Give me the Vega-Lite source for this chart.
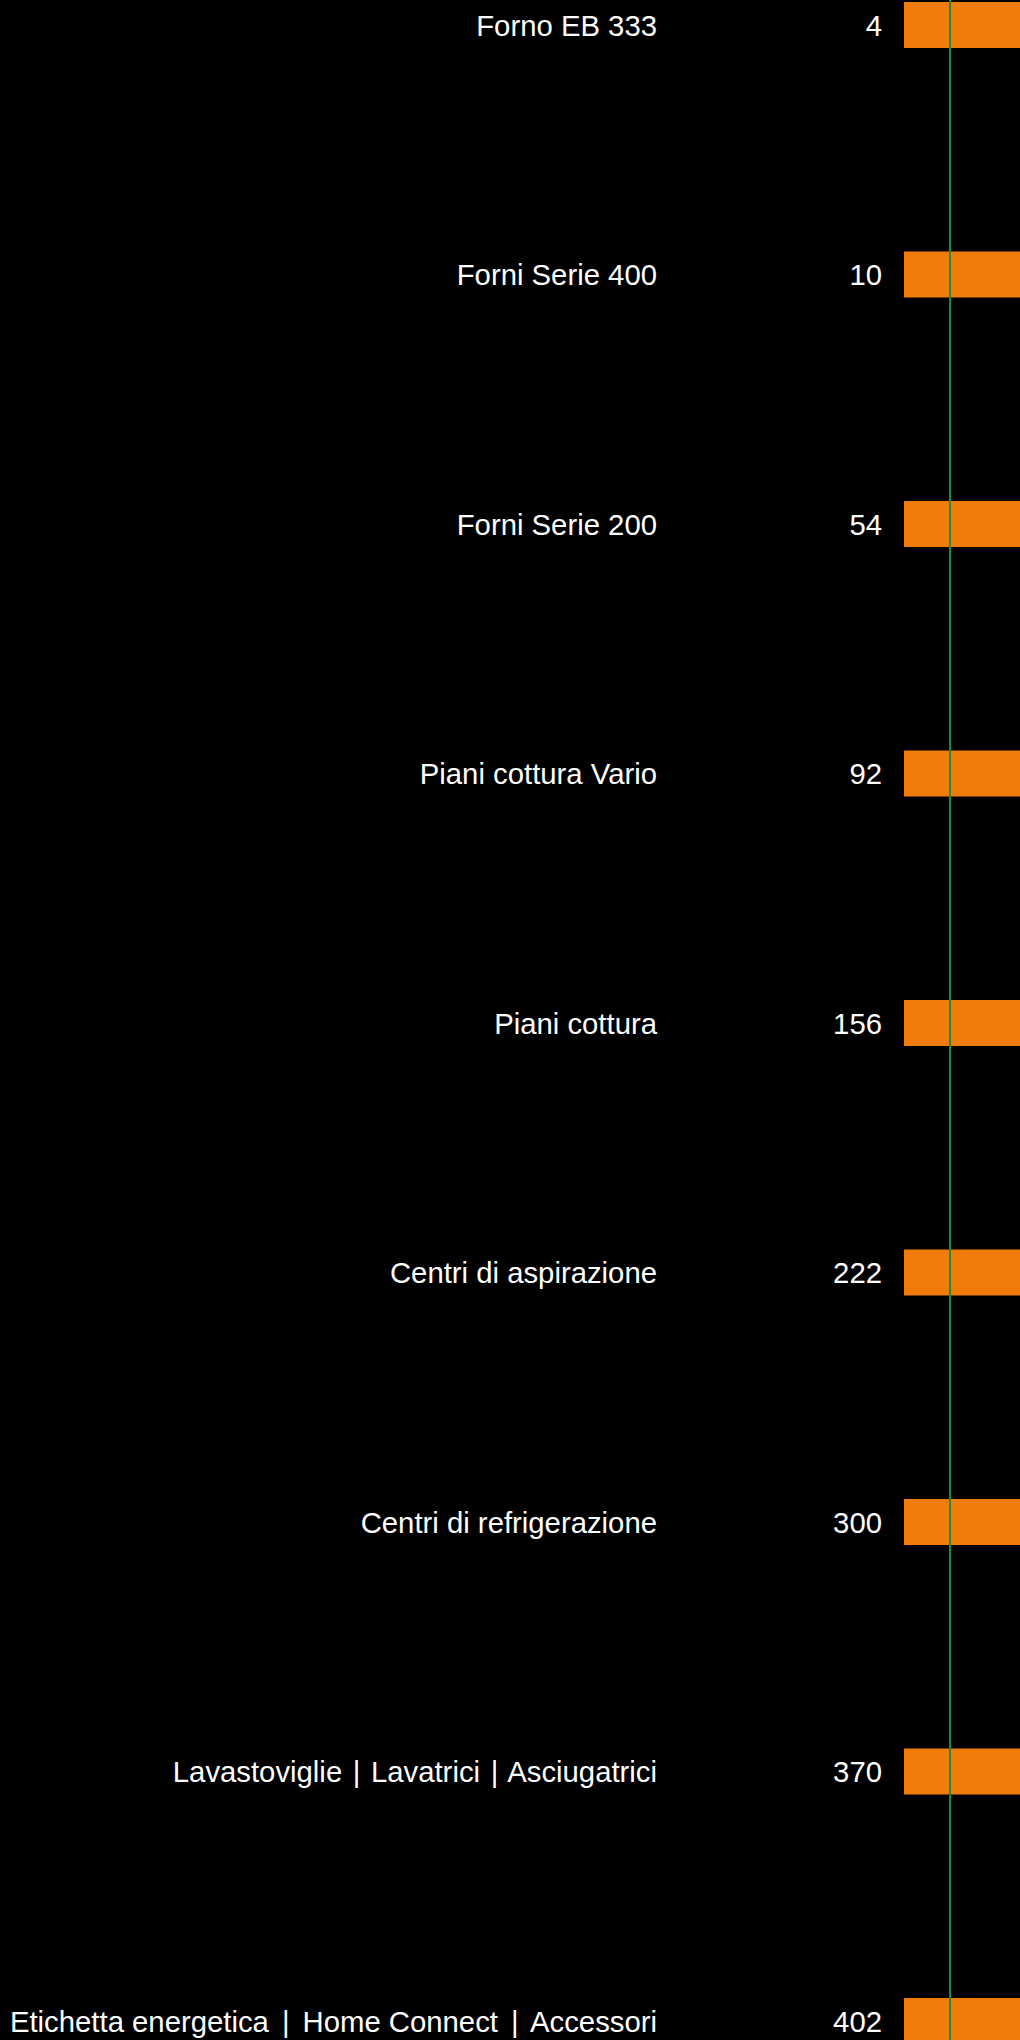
{
  "$schema": "https://vega.github.io/schema/vega-lite/v6.json",
  "autosize": {"type": "none"},
  "width": 1020,
  "height": 2040,
  "padding": 0,
  "background": "#000000",
  "config": {"view": {"stroke": null}},
  "data": {
    "values": [
      {"row": 0, "section": "Forno EB 333", "page": "4"},
      {"row": 1, "section": "Forni Serie 400", "page": "10"},
      {"row": 2, "section": "Forni Serie 200", "page": "54"},
      {"row": 3, "section": "Piani cottura Vario", "page": "92"},
      {"row": 4, "section": "Piani cottura", "page": "156"},
      {"row": 5, "section": "Centri di aspirazione", "page": "222"},
      {"row": 6, "section": "Centri di refrigerazione", "page": "300"},
      {"row": 7, "section": "Lavastoviglie \u200a|\u200a Lavatrici \u200a|\u200a Asciugatrici", "page": "370"},
      {"row": 8, "section": "Etichetta energetica \u200a\u200a|\u200a\u200a Home Connect \u200a\u200a|\u200a\u200a Accessori", "page": "402"}
    ]
  },
  "encoding": {
    "y": {
      "field": "row",
      "type": "quantitative",
      "scale": {"domain": [-0.1002, 8.0762], "reverse": true, "nice": false, "zero": false, "padding": 0},
      "axis": null
    }
  },
  "layer": [
    {
      "mark": {"type": "bar", "color": "#F07C0C", "height": 46},
      "encoding": {
        "x": {"datum": 904, "type": "quantitative", "scale": {"domain": [0, 1020], "nice": false, "zero": false, "padding": 0}, "axis": null},
        "x2": {"datum": 1020}
      }
    },
    {
      "mark": {"type": "text", "align": "right", "baseline": "middle", "font": "Liberation Sans", "fontSize": 29.3, "color": "#ffffff", "dy": 2},
      "encoding": {
        "x": {"datum": 657, "type": "quantitative"},
        "text": {"field": "section"}
      }
    },
    {
      "mark": {"type": "text", "align": "right", "baseline": "middle", "font": "Liberation Sans", "fontSize": 29.3, "color": "#ffffff", "dy": 2},
      "encoding": {
        "x": {"datum": 882, "type": "quantitative"},
        "text": {"field": "page"}
      }
    },
    {
      "data": {"values": [{"guide": "line"}]},
      "mark": {"type": "rule", "color": "#1E8A3A", "strokeWidth": 2},
      "encoding": {
        "x": {"datum": 950, "type": "quantitative"},
        "y": null
      }
    }
  ]
}
